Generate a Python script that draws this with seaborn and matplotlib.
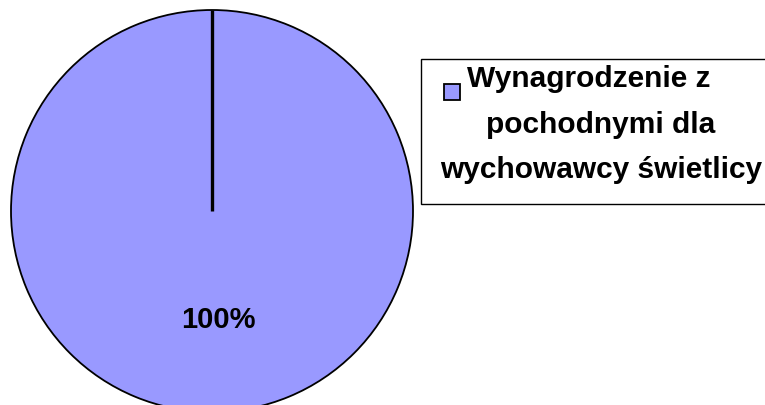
import matplotlib.pyplot as plt
import seaborn as sns
from matplotlib.patches import Rectangle

categories = ["Wynagrodzenie z pochodnymi dla wychowawcy świetlicy"]
values = [100]
legend_lines = ["Wynagrodzenie z", "pochodnymi dla", "wychowawcy świetlicy"]
pie_color = "#9999FF"

W, H = 765, 405

sns.set_theme(style="white")
plt.rcParams["font.family"] = ["Liberation Sans", "DejaVu Sans"]
plt.rcParams["text.color"] = "black"

fig = plt.figure(figsize=(W / 100, H / 100), dpi=100)
fig.patch.set_facecolor("white")

# pie centre ~(212, 211) px from top-left, radius ~201 px
r_px = 201
cx, cy = 212, H - 211
ax = fig.add_axes([(cx - r_px) / W, (cy - r_px) / H, 2 * r_px / W, 2 * r_px / H])
wedges, texts, autotexts = ax.pie(
    values,
    colors=[pie_color],
    startangle=90,
    counterclock=False,
    radius=1.0,
    autopct="%1.0f%%",
    pctdistance=0.54,
    wedgeprops=dict(edgecolor="black", linewidth=1.3),
    textprops=dict(fontsize=21, fontweight="bold", color="black"),
)
for w in wedges:
    w.set_clip_on(False)
for t in autotexts:
    x, y = t.get_position()
    t.set_position((x + 0.03, y))
# radial edge of the single wedge at its start angle
ax.plot([0, 0], [0, 1], color="black", linewidth=2.4, solid_capstyle="butt")
ax.set_xlim(-1, 1)
ax.set_ylim(-1, 1)
ax.set_aspect("equal")
ax.axis("off")

# legend box
fig.patches.append(Rectangle((421 / W, 1 - 204 / H), 400 / W, 145 / H,
                             transform=fig.transFigure, facecolor="white",
                             edgecolor="black", linewidth=1.0))
fig.patches.append(Rectangle((444 / W, 1 - 100 / H), 16 / W, 16 / H,
                             transform=fig.transFigure, facecolor=pie_color,
                             edgecolor="black", linewidth=1.3))
fs = 21.5
fig.text(467 / W, 1 - 87 / H, legend_lines[0], fontsize=fs, fontweight="bold",
         ha="left", va="baseline", color="black")
fig.text(601 / W, 1 - 133 / H, legend_lines[1], fontsize=fs, fontweight="bold",
         ha="center", va="baseline", color="black")
fig.text(601 / W, 1 - 178 / H, legend_lines[2], fontsize=fs, fontweight="bold",
         ha="center", va="baseline", color="black")

fig.savefig("out.png", dpi=100)
